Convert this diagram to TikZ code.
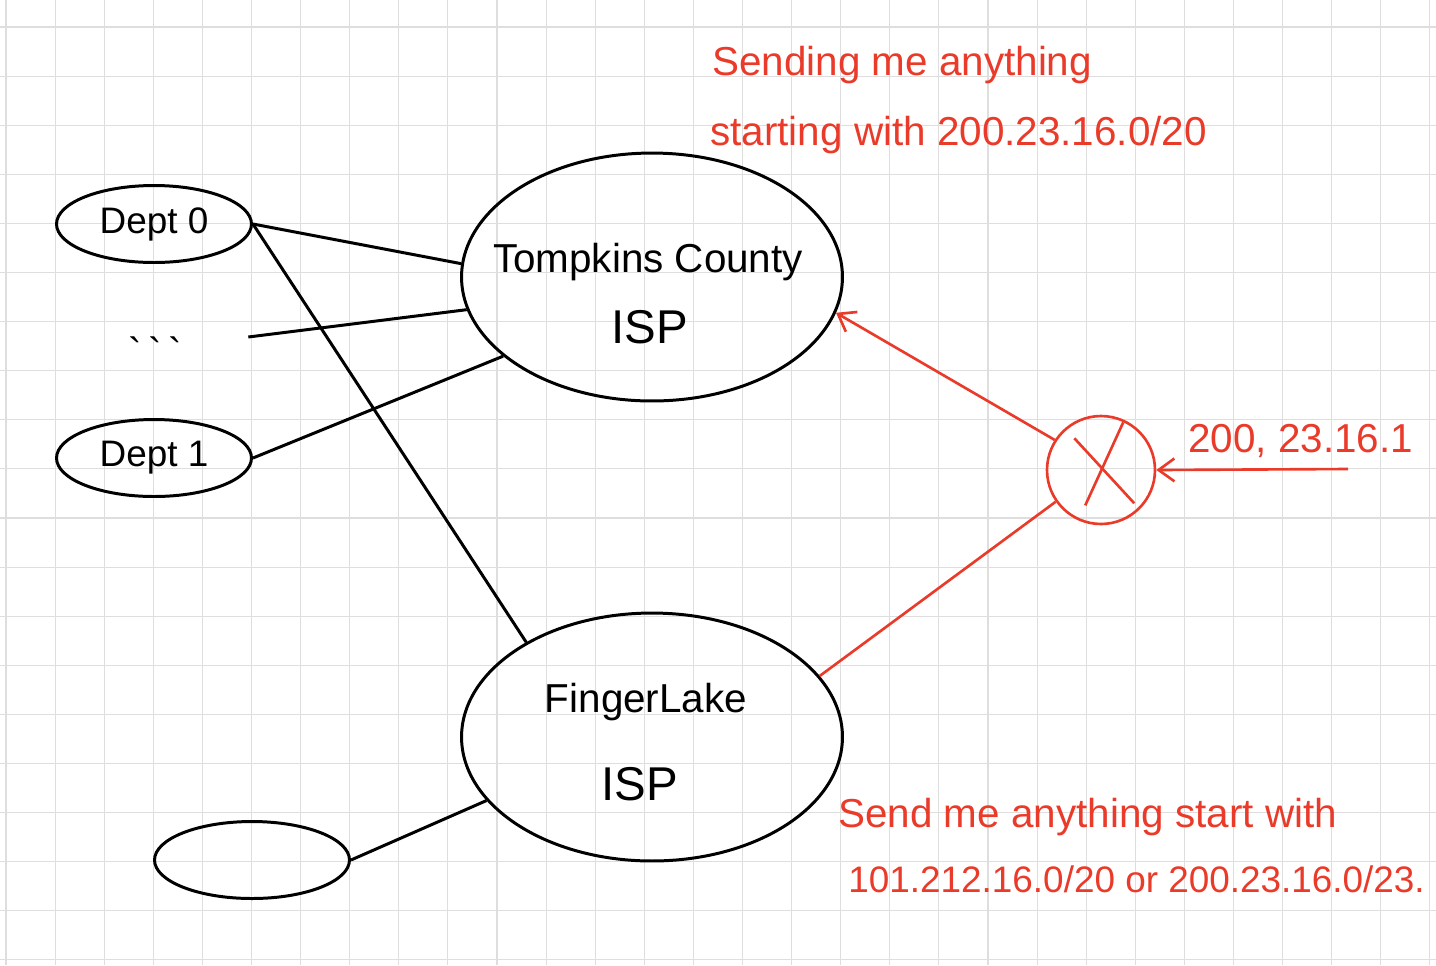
\documentclass[tikz,border=0pt]{standalone}
\usepackage{fontspec}
\setmainfont{Liberation Sans}
\usepackage{tikz}
\usetikzlibrary{shapes,arrows,arrows.meta,positioning,calc}
\definecolor{penred}{RGB}{234,58,41}
\definecolor{gridgray}{RGB}{222,222,222}

\begin{document}
\begin{tikzpicture}[
    x=0.02cm, y=-0.02cm,
    gridline/.style={draw=gridgray, line width=0.6pt},
    dept/.style={ellipse, draw, line width=1.7pt, inner sep=0pt, minimum width=3.9cm, minimum height=1.54cm, font=\fontsize{21}{25}\selectfont},
    isp/.style={ellipse, draw, line width=1.7pt, inner sep=0pt, minimum width=7.62cm, minimum height=4.96cm},
    hop/.style={circle, draw=penred, line width=1.5pt, inner sep=0pt, minimum size=2.16cm},
    hand/.style={font=\fontsize{23}{28}\selectfont, inner sep=0pt},
    bighand/.style={hand, font=\fontsize{27}{32}\selectfont},
    note/.style={hand, text=penred, anchor=base west},
    link/.style={line width=1.7pt},
    feed/.style={line width=1.5pt, draw=penred},
    arrow/.style={feed, -{Straight Barb[length=9pt,width=13pt]}}
]
    \useasboundingbox (0,0) rectangle (1436,965);
    \foreach \gx in {6,55.1,...,1436} \draw[gridline] (\gx,0) -- (\gx,965);
    \foreach \gy in {27,76.1,...,965} \draw[gridline] (0,\gy) -- (1436,\gy);

    \node[dept] (dept0) at (154,224) {Dept 0\hspace{0.3cm}};
    \node[hand, minimum width=3.72cm, text height=34pt, text depth=0pt] (dots) at (155,337) {\textasciigrave\,\textasciigrave\,\textasciigrave};
    \node[dept] (dept1) at (154,458) {Dept 1};
    \node[dept] (spare) at (252,860) {};
    \node[isp] (tompkins) at (652,277) {};
    \node[isp] (finger) at (652,737) {};
    \node[hop] (router) at (1101,470) {};
    \coordinate (feedin) at (1348,469);

    \node[hand, anchor=base] (tcname) at (648,272) {Tompkins County};
    \node[bighand, anchor=base] (tcisp) at (650,343) {ISP};
    \node[hand, anchor=base] (flname) at (646,712) {FingerLake};
    \node[bighand, anchor=base] (flisp) at (640,800) {ISP};

    \node[note] (tcnote1) at (712,75) {Sending me anything};
    \node[note] (tcnote2) at (710,145) {starting with 200.23.16.0/20};
    \node[note] (flnote1) at (838,827) {Send me anything start with};
    \node[note, font=\fontsize{21}{25}\selectfont] (flnote2) at (848,892) {101.212.16.0/20 or 200.23.16.0/23.};
    \node[note] (hostip) at (1188,452) {200, 23.16.1};

    \draw[link] (dept0.east) -- (tompkins.176);
    \draw[link] (dept0.east) -- (finger.143);
    \draw[link] (dots.east) -- (tompkins.190);
    \draw[link] (dept1.east) -- (tompkins.208);
    \draw[link] (spare.east) -- (finger.201);
    \draw[arrow] (router.147) -- (tompkins.-11);
    \draw[feed] (router.215) -- (finger.20);
    \draw[arrow] (feedin) -- (router.east);
    \draw[feed] ($(router.center)!0.75!(router.130)$) -- ($(router.center)!0.85!(router.-45)$);
    \draw[feed] ($(router.center)!0.95!(router.65)$) -- ($(router.center)!0.7!(router.246)$);
\end{tikzpicture}
\end{document}
